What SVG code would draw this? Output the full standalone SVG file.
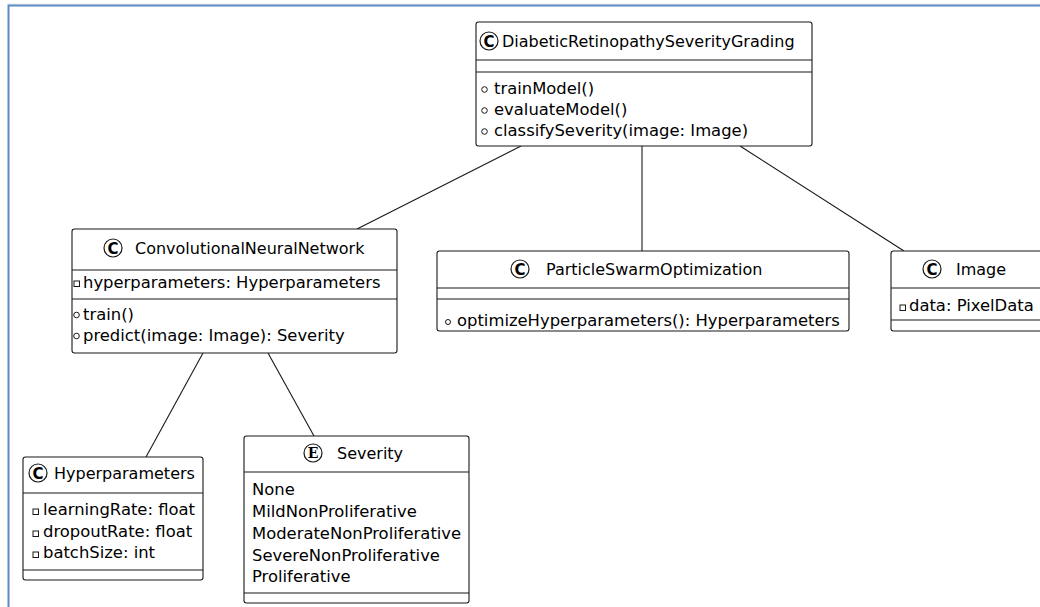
<svg xmlns="http://www.w3.org/2000/svg" width="1040" height="607" viewBox="0 0 1040 607">
<style>
.box{fill:#fff;stroke:#181818;stroke-width:1.1}
.sep{stroke:#181818;stroke-width:1.1}
.t{font-family:"DejaVu Sans",sans-serif;font-size:16px;fill:#000}
.m{font-family:"DejaVu Sans",sans-serif;font-size:16.4px;fill:#000}
.ic{fill:#fff;stroke:#181818;stroke-width:1.2}
.icl{font-family:"DejaVu Sans",sans-serif;font-size:15px;font-weight:bold;fill:#000;text-anchor:middle}
.ice{font-family:"DejaVu Serif",serif;font-size:14px;font-weight:bold;fill:#000;text-anchor:middle}
.pub{fill:none;stroke:#181818;stroke-width:1}
.priv{fill:none;stroke:#181818;stroke-width:1}
.conn line{stroke:#181818;stroke-width:1.1}
</style>
<rect x="0" y="0" width="1040" height="607" fill="#fff"/>
<line x1="8" y1="4" x2="1040" y2="4" stroke="#e6e6e6" stroke-width="1"/>
<polyline points="8.5,607 8.5,5.5 1040,5.5" fill="none" stroke="#5b8ac6" stroke-width="2"/>

<g id="connectors" class="conn">
<line x1="521" y1="146" x2="357" y2="229"/>
<line x1="642" y1="146" x2="642" y2="251"/>
<line x1="740" y1="146" x2="904" y2="251"/>
<line x1="203" y1="353" x2="146" y2="457"/>
<line x1="268" y1="353" x2="314" y2="436"/>
</g>

<g id="DiabeticRetinopathySeverityGrading">
<rect class="box" x="476" y="22" width="336" height="124" rx="2.5"/>
<line class="sep" x1="476" y1="60" x2="812" y2="60"/>
<line class="sep" x1="476" y1="72" x2="812" y2="72"/>
<circle class="ic" cx="489" cy="41" r="9"/>
<text class="icl" x="489" y="46.5">C</text>
<text class="t" x="502" y="47">DiabeticRetinopathySeverityGrading</text>
<circle class="pub" cx="484.5" cy="89.5" r="2.8"/>
<text class="m" x="494" y="94">trainModel()</text>
<circle class="pub" cx="484.5" cy="110.5" r="2.8"/>
<text class="m" x="494" y="115">evaluateModel()</text>
<circle class="pub" cx="484.5" cy="131.5" r="2.8"/>
<text class="m" x="494" y="136">classifySeverity(image: Image)</text>
</g>

<g id="ConvolutionalNeuralNetwork">
<rect class="box" x="72" y="229" width="325" height="124" rx="2.5"/>
<line class="sep" x1="72" y1="270" x2="397" y2="270"/>
<line class="sep" x1="72" y1="299" x2="397" y2="299"/>
<circle class="ic" cx="113" cy="248" r="9"/>
<text class="icl" x="113" y="253.5">C</text>
<text class="t" x="135" y="254">ConvolutionalNeuralNetwork</text>
<rect class="priv" x="74" y="281" width="5.5" height="5.5"/>
<text class="m" x="83" y="288">hyperparameters: Hyperparameters</text>
<circle class="pub" cx="76.5" cy="315" r="2.8"/>
<text class="m" x="83" y="320">train()</text>
<circle class="pub" cx="76.5" cy="336" r="2.8"/>
<text class="m" x="83" y="341">predict(image: Image): Severity</text>
</g>

<g id="ParticleSwarmOptimization">
<rect class="box" x="437" y="251" width="412" height="80" rx="2.5"/>
<line class="sep" x1="437" y1="288" x2="849" y2="288"/>
<line class="sep" x1="437" y1="299" x2="849" y2="299"/>
<circle class="ic" cx="520" cy="269" r="9"/>
<text class="icl" x="520" y="274.5">C</text>
<text class="t" x="546" y="275">ParticleSwarmOptimization</text>
<circle class="pub" cx="448" cy="322" r="2.5"/>
<text class="m" x="457" y="326">optimizeHyperparameters(): Hyperparameters</text>
</g>

<g id="Image">
<rect class="box" x="891" y="251" width="152" height="80" rx="2.5"/>
<line class="sep" x1="891" y1="288" x2="1043" y2="288"/>
<line class="sep" x1="891" y1="320" x2="1043" y2="320"/>
<circle class="ic" cx="932" cy="269" r="9"/>
<text class="icl" x="932" y="274.5">C</text>
<text class="t" x="956" y="275">Image</text>
<rect class="priv" x="900" y="305" width="5.5" height="5.5"/>
<text class="m" x="909" y="311">data: PixelData</text>
</g>

<g id="Hyperparameters">
<rect class="box" x="23" y="457" width="180" height="123" rx="2.5"/>
<line class="sep" x1="23" y1="493" x2="203" y2="493"/>
<line class="sep" x1="23" y1="570" x2="203" y2="570"/>
<circle class="ic" cx="38" cy="473" r="9"/>
<text class="icl" x="38" y="478.5">C</text>
<text class="t" x="54" y="479">Hyperparameters</text>
<rect class="priv" x="33" y="509" width="5.5" height="5.5"/>
<text class="m" x="43" y="515">learningRate: float</text>
<rect class="priv" x="33" y="531" width="5.5" height="5.5"/>
<text class="m" x="43" y="537">dropoutRate: float</text>
<rect class="priv" x="33" y="552" width="5.5" height="5.5"/>
<text class="m" x="43" y="558">batchSize: int</text>
</g>

<g id="Severity">
<rect class="box" x="244" y="436" width="225" height="167" rx="2.5"/>
<line class="sep" x1="244" y1="472" x2="469" y2="472"/>
<line class="sep" x1="244" y1="593" x2="469" y2="593"/>
<circle class="ic" cx="313" cy="453" r="9"/>
<text class="ice" x="313" y="458">E</text>
<text class="t" x="337" y="459">Severity</text>
<text class="m" x="252" y="495">None</text>
<text class="m" x="252" y="517">MildNonProliferative</text>
<text class="m" x="252" y="539">ModerateNonProliferative</text>
<text class="m" x="252" y="561">SevereNonProliferative</text>
<text class="m" x="252" y="582">Proliferative</text>
</g>
</svg>
